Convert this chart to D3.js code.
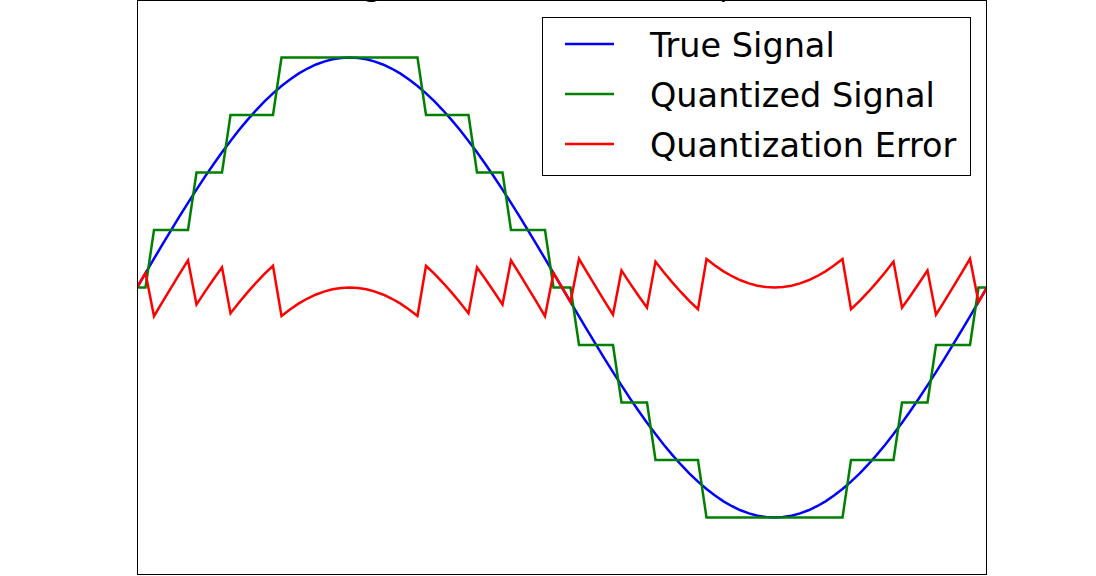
<!DOCTYPE html>
<html>
<head>
<meta charset="utf-8">
<script src="https://cdn.jsdelivr.net/npm/d3@7"></script>
<style>
  html, body { margin: 0; padding: 0; background: #fff; }
  svg { display: block; }
  text { font-family: "DejaVu Sans", sans-serif; }
</style>
</head>
<body>
<svg id="chart" width="1096" height="576"></svg>
<script>
// ---- data (101 samples over one period) ----
const titleText = "Signal Quantization Example";
const seriesNames = ["True Signal", "Quantized Signal", "Quantization Error"];
const seriesColors = ["#0000ff", "#008000", "#ff0000"];

const trueSignal = [
  0, 0.0628, 0.1253, 0.1874, 0.2487, 0.3090, 0.3681, 0.4258, 0.4818, 0.5358,
  0.5878, 0.6374, 0.6845, 0.7290, 0.7705, 0.8090, 0.8443, 0.8763, 0.9048, 0.9298,
  0.9511, 0.9686, 0.9823, 0.9921, 0.9980, 1.0000, 0.9980, 0.9921, 0.9823, 0.9686,
  0.9511, 0.9298, 0.9048, 0.8763, 0.8443, 0.8090, 0.7705, 0.7290, 0.6845, 0.6374,
  0.5878, 0.5358, 0.4818, 0.4258, 0.3681, 0.3090, 0.2487, 0.1874, 0.1253, 0.0628,
  0,
  -0.0628, -0.1253, -0.1874, -0.2487, -0.3090, -0.3681, -0.4258, -0.4818, -0.5358,
  -0.5878, -0.6374, -0.6845, -0.7290, -0.7705, -0.8090, -0.8443, -0.8763, -0.9048, -0.9298,
  -0.9511, -0.9686, -0.9823, -0.9921, -0.9980, -1.0000, -0.9980, -0.9921, -0.9823, -0.9686,
  -0.9511, -0.9298, -0.9048, -0.8763, -0.8443, -0.8090, -0.7705, -0.7290, -0.6845, -0.6374,
  -0.5878, -0.5358, -0.4818, -0.4258, -0.3681, -0.3090, -0.2487, -0.1874, -0.1253, -0.0628,
  0
];

const quantizedSignal = [
  0, 0, 0.25, 0.25, 0.25, 0.25, 0.25, 0.5, 0.5, 0.5,
  0.5, 0.75, 0.75, 0.75, 0.75, 0.75, 0.75, 1, 1, 1,
  1, 1, 1, 1, 1, 1, 1, 1, 1, 1,
  1, 1, 1, 1, 0.75, 0.75, 0.75, 0.75, 0.75, 0.75,
  0.5, 0.5, 0.5, 0.5, 0.25, 0.25, 0.25, 0.25, 0.25, 0,
  0,
  0, -0.25, -0.25, -0.25, -0.25, -0.25, -0.5, -0.5, -0.5,
  -0.5, -0.75, -0.75, -0.75, -0.75, -0.75, -0.75, -1, -1, -1,
  -1, -1, -1, -1, -1, -1, -1, -1, -1, -1,
  -1, -1, -1, -1, -0.75, -0.75, -0.75, -0.75, -0.75, -0.75,
  -0.5, -0.5, -0.5, -0.5, -0.25, -0.25, -0.25, -0.25, -0.25, 0,
  0
];

const quantizationError = [
  0, 0.0628, -0.1247, -0.0626, -0.0013, 0.0590, 0.1181, -0.0742, -0.0182, 0.0358,
  0.0878, -0.1126, -0.0655, -0.0210, 0.0205, 0.0590, 0.0943, -0.1237, -0.0952, -0.0702,
  -0.0489, -0.0314, -0.0177, -0.0079, -0.0020, 0, -0.0020, -0.0079, -0.0177, -0.0314,
  -0.0489, -0.0702, -0.0952, -0.1237, 0.0943, 0.0590, 0.0205, -0.0210, -0.0655, -0.1126,
  0.0878, 0.0358, -0.0182, -0.0742, 0.1181, 0.0590, -0.0013, -0.0626, -0.1247, 0.0628,
  0,
  -0.0628, 0.1247, 0.0626, 0.0013, -0.0590, -0.1181, 0.0742, 0.0182, -0.0358,
  -0.0878, 0.1126, 0.0655, 0.0210, -0.0205, -0.0590, -0.0943, 0.1237, 0.0952, 0.0702,
  0.0489, 0.0314, 0.0177, 0.0079, 0.0020, 0, 0.0020, 0.0079, 0.0177, 0.0314,
  0.0489, 0.0702, 0.0952, 0.1237, -0.0943, -0.0590, -0.0205, 0.0210, 0.0655, 0.1126,
  -0.0878, -0.0358, 0.0182, 0.0742, -0.1181, -0.0590, 0.0013, 0.0626, 0.1247, -0.0628,
  0
];

// ---- layout ----
const svg = d3.select("#chart");
const plot = { left: 137, top: 0, width: 850, height: 575 };

const x = d3.scaleLinear().domain([0, trueSignal.length - 1]).range([plot.left, plot.left + plot.width]);
const y = d3.scaleLinear().domain([-1.25, 1.25]).range([plot.top + plot.height, plot.top]);

svg.append("defs").append("clipPath").attr("id", "clip")
  .append("rect").attr("x", plot.left).attr("y", plot.top)
  .attr("width", plot.width).attr("height", plot.height);

const line = d3.line().x((d, i) => x(i)).y(d => y(d));

const g = svg.append("g").attr("clip-path", "url(#clip)");
[trueSignal, quantizedSignal, quantizationError].forEach((series, k) => {
  g.append("path")
    .datum(series)
    .attr("d", line)
    .attr("fill", "none")
    .attr("stroke", seriesColors[k])
    .attr("stroke-width", 2.5)
    .attr("stroke-linejoin", "miter")
    .attr("stroke-miterlimit", 10);
});

// axes frame
svg.append("rect")
  .attr("x", plot.left + 0.5).attr("y", plot.top + 0.5)
  .attr("width", plot.width - 1).attr("height", plot.height - 1)
  .attr("fill", "none").attr("stroke", "#000").attr("stroke-width", 1);

// title (lies above the visible area, as in the reference; only descenders show)
svg.append("text")
  .attr("x", 336)
  .attr("y", -4)
  .attr("font-size", 29.7)
  .attr("fill", "#000")
  .text(titleText);

// legend
const legend = svg.append("g");
legend.append("rect")
  .attr("x", 542.5).attr("y", 17.5).attr("width", 428).attr("height", 158)
  .attr("fill", "#fff").attr("stroke", "#000").attr("stroke-width", 1);

seriesNames.forEach((name, k) => {
  const cy = 44 + k * 50;
  legend.append("line")
    .attr("x1", 565).attr("x2", 614)
    .attr("y1", cy).attr("y2", cy)
    .attr("stroke", seriesColors[k]).attr("stroke-width", 2.5);
  legend.append("text")
    .attr("x", 650).attr("y", cy + 13)
    .attr("font-size", 33.5)
    .attr("fill", "#000")
    .text(name);
});
</script>
</body>
</html>
